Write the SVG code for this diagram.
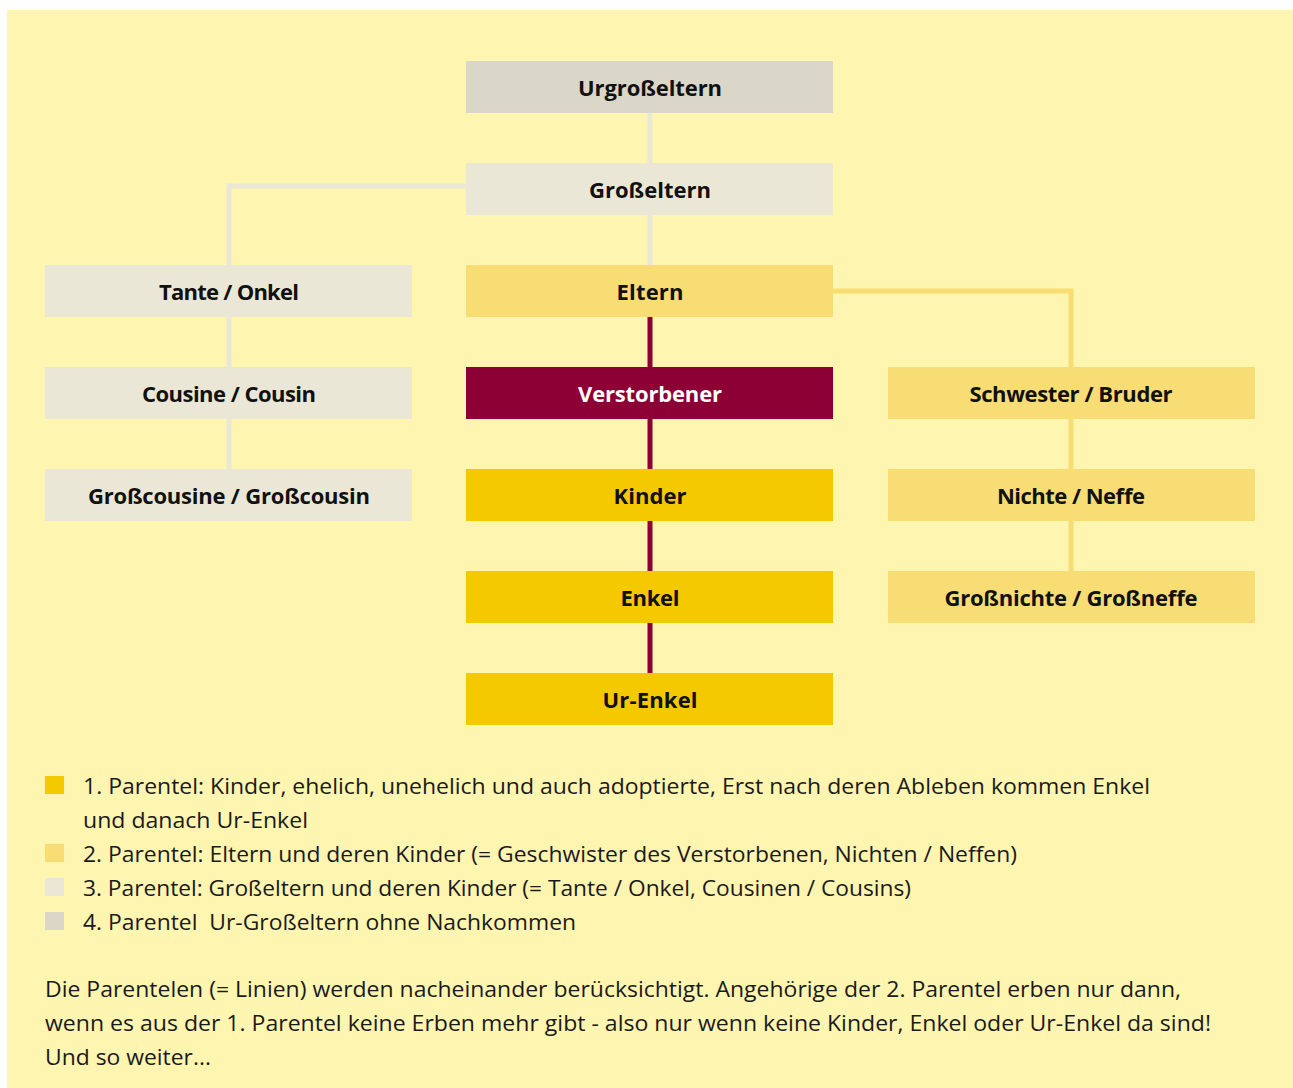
<svg xmlns="http://www.w3.org/2000/svg" width="1293" height="1088" viewBox="0 0 1293 1088">
<style>
.lbl{font-family:"Open Sans","Noto Sans","Liberation Sans",sans-serif;font-weight:700;font-size:22px;fill:#111;text-anchor:middle}
.lblw{fill:#fff}
.txt{font-family:"Open Sans","Noto Sans","Liberation Sans",sans-serif;font-weight:400;font-size:22px;fill:#1a1a1a}
.p1{fill:#F5C900}.p2{fill:#F7DD73}.p3{fill:#EBE7D6}.p4{fill:#DAD6C8}.dec{fill:#8C0035}
.c{fill:none;stroke-width:5}
.c3{stroke:#EBE7D6}.c2{stroke:#F7DD73}.c1{stroke:#8C0035}
</style>
<rect x="0" y="0" width="1293" height="1088" fill="#ffffff"/>
<rect x="7" y="10" width="1286" height="1078" fill="#FEF5B0"/>
<g id="connectors">
<line class="c c3" x1="650" y1="113" x2="650" y2="163"/>
<line class="c c3" x1="650" y1="215" x2="650" y2="265"/>
<polyline class="c c3" points="466,186 229,186 229,265"/>
<line class="c c3" x1="229" y1="317" x2="229" y2="367"/>
<line class="c c3" x1="229" y1="419" x2="229" y2="469"/>
<line class="c c1" x1="650" y1="317" x2="650" y2="367"/>
<line class="c c1" x1="650" y1="419" x2="650" y2="469"/>
<line class="c c1" x1="650" y1="521" x2="650" y2="571"/>
<line class="c c1" x1="650" y1="623" x2="650" y2="673"/>
<polyline class="c c2" points="833,291 1071,291 1071,367"/>
<line class="c c2" x1="1071" y1="419" x2="1071" y2="469"/>
<line class="c c2" x1="1071" y1="521" x2="1071" y2="571"/>
</g>
<g id="urgrosseltern"><rect class="p4" x="466" y="61" width="367" height="52"/><text class="lbl" x="650" y="96" textLength="144">Urgroßeltern</text></g>
<g id="grosseltern"><rect class="p3" x="466" y="163" width="367" height="52"/><text class="lbl" x="650" y="198" textLength="122">Großeltern</text></g>
<g id="eltern"><rect class="p2" x="466" y="265" width="367" height="52"/><text class="lbl" x="650" y="300" textLength="67">Eltern</text></g>
<g id="verstorbener"><rect class="dec" x="466" y="367" width="367" height="52"/><text class="lbl lblw" x="650" y="402" textLength="144">Verstorbener</text></g>
<g id="kinder"><rect class="p1" x="466" y="469" width="367" height="52"/><text class="lbl" x="650" y="504" textLength="73">Kinder</text></g>
<g id="enkel"><rect class="p1" x="466" y="571" width="367" height="52"/><text class="lbl" x="650" y="606" textLength="59">Enkel</text></g>
<g id="urenkel"><rect class="p1" x="466" y="673" width="367" height="52"/><text class="lbl" x="650" y="708" textLength="95">Ur-Enkel</text></g>
<g id="tante-onkel"><rect class="p3" x="45" y="265" width="367" height="52"/><text class="lbl" x="229" y="300" textLength="140">Tante / Onkel</text></g>
<g id="cousine-cousin"><rect class="p3" x="45" y="367" width="367" height="52"/><text class="lbl" x="229" y="402" textLength="174">Cousine / Cousin</text></g>
<g id="grosscousine"><rect class="p3" x="45" y="469" width="367" height="52"/><text class="lbl" x="229" y="504" textLength="282">Großcousine / Großcousin</text></g>
<g id="schwester-bruder"><rect class="p2" x="888" y="367" width="367" height="52"/><text class="lbl" x="1071" y="402" textLength="203">Schwester / Bruder</text></g>
<g id="nichte-neffe"><rect class="p2" x="888" y="469" width="367" height="52"/><text class="lbl" x="1071" y="504" textLength="148">Nichte / Neffe</text></g>
<g id="grossnichte"><rect class="p2" x="888" y="571" width="367" height="52"/><text class="lbl" x="1071" y="606" textLength="253">Großnichte / Großneffe</text></g>
<g id="legend">
<rect class="p1" x="45" y="776" width="19" height="18"/>
<rect class="p2" x="45" y="844" width="19" height="18"/>
<rect class="p3" x="45" y="878" width="19" height="18"/>
<rect class="p4" x="45" y="912" width="19" height="18"/>
<text class="txt" x="83" y="794" textLength="1067" lengthAdjust="spacingAndGlyphs">1. Parentel: Kinder, ehelich, unehelich und auch adoptierte, Erst nach deren Ableben kommen Enkel</text>
<text class="txt" x="83" y="828" textLength="225" lengthAdjust="spacingAndGlyphs">und danach Ur-Enkel</text>
<text class="txt" x="83" y="862" textLength="934" lengthAdjust="spacingAndGlyphs">2. Parentel: Eltern und deren Kinder (= Geschwister des Verstorbenen, Nichten / Neffen)</text>
<text class="txt" x="83" y="896" textLength="828" lengthAdjust="spacingAndGlyphs">3. Parentel: Großeltern und deren Kinder (= Tante / Onkel, Cousinen / Cousins)</text>
<text class="txt" x="83" y="930" textLength="493" lengthAdjust="spacingAndGlyphs" xml:space="preserve">4. Parentel  Ur-Großeltern ohne Nachkommen</text>
</g>
<g id="note">
<text class="txt" x="45" y="997" textLength="1136" lengthAdjust="spacingAndGlyphs">Die Parentelen (= Linien) werden nacheinander berücksichtigt. Angehörige der 2. Parentel erben nur dann,</text>
<text class="txt" x="45" y="1031" textLength="1166" lengthAdjust="spacingAndGlyphs">wenn es aus der 1. Parentel keine Erben mehr gibt - also nur wenn keine Kinder, Enkel oder Ur-Enkel da sind!</text>
<text class="txt" x="45" y="1065" textLength="166" lengthAdjust="spacingAndGlyphs">Und so weiter...</text>
</g>
</svg>
